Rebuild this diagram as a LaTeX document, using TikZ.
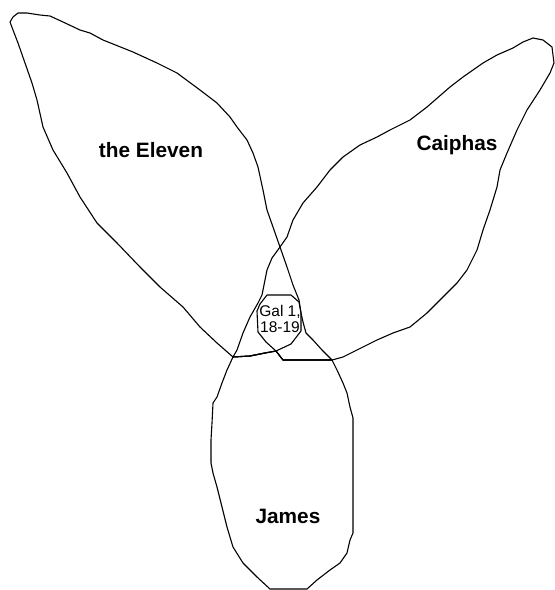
\documentclass[tikz,border=0pt]{standalone}
\usepackage{fontspec}
\setmainfont{Liberation Sans}
\usepackage{tikz}
\usetikzlibrary{positioning}

\begin{document}
\begin{tikzpicture}[
		x=1pt, y=-1pt,
		blob/.style={draw=black, line width=1.1pt, line join=round},
		lbl/.style={anchor=base, inner sep=0pt,
				font=\fontsize{20.8}{24}\selectfont\bfseries},
		ref/.style={anchor=base, inner sep=0pt,
				font=\fontsize{15.5}{18}\selectfont},
		]
		\useasboundingbox (0,0) rectangle (555,590);

		% the Eleven
		\draw[blob] (10,22) -- (13,30) -- (18,43) -- (25,63) -- (32,83) -- (37,100)
		-- (43,127) -- (53,150) -- (67,173) -- (80,197) -- (97,223) -- (117,243)
		-- (140,267) -- (160,287) -- (183,307) -- (200,327) -- (217,343) -- (233,357)
		-- (250,356) -- (265,353) -- (276,351) -- (283,360) -- (332,360)
		-- (322,350) -- (313,340) -- (306,333) -- (303,322) -- (301,313) -- (299,300)
		-- (293,285) -- (287,267) -- (280,247) -- (273,227) -- (267,210) -- (263,190)
		-- (258,167) -- (253,153) -- (247,140) -- (237,127) -- (230,117) -- (217,103)
		-- (200,90) -- (177,73) -- (157,63) -- (133,52) -- (103,40) -- (90,33)
		-- (80,30) -- (63,22) -- (50,16) -- (40,15) -- (27,13) -- (18,13) -- (13,17)
		-- cycle;

		% Caiphas
		\draw[blob] (533,38) -- (543,40) -- (552,47) -- (554,63) -- (550,73) -- (540,90)
		-- (527,110) -- (517,130) -- (507,153) -- (500,170) -- (497,187) -- (490,210)
		-- (483,230) -- (477,250) -- (467,270) -- (457,283) -- (443,297) -- (427,313)
		-- (410,327) -- (393,333) -- (377,340) -- (357,350) -- (343,357) -- (332,360)
		-- (283,360) -- (276,351) -- (265,353) -- (250,356) -- (233,357)
		-- (237,350) -- (243,333) -- (250,317) -- (258,303) -- (262,295) -- (264,285)
		-- (267,270) -- (272,258) -- (280,247) -- (287,237) -- (293,220) -- (303,203)
		-- (317,187) -- (330,170) -- (343,157) -- (360,145) -- (377,137) -- (390,130)
		-- (410,120) -- (427,107) -- (450,87) -- (463,77) -- (483,63) -- (497,55)
		-- (513,48) -- (523,42) -- cycle;

		% James
		\draw[blob] (233,357) -- (227,370) -- (222,383) -- (217,397) -- (213,403)
		-- (212,423) -- (211,440) -- (211,463) -- (213,473) -- (217,487) -- (222,507)
		-- (227,527) -- (233,547) -- (243,563) -- (257,577) -- (270,589) -- (307,589)
		-- (317,580) -- (330,570) -- (340,563) -- (347,553) -- (350,540) -- (353,533)
		-- (353,418) -- (350,407) -- (347,393) -- (343,383) -- (337,370) -- (332,360)
		-- (283,360) -- (276,351) -- (265,353) -- (250,356) -- cycle;

		% Gal 1, 18-19
		\draw[blob] (267,295) -- (291,295) -- (299,302) -- (301,313) -- (301,331)
		-- (291,344) -- (276,351) -- (266,342) -- (258,332) -- (257,311) -- (260,304)
		-- cycle;

		% Beschriftung
		\node[lbl] (eleven)  at (151,157) {the Eleven};
		\node[lbl] (caiphas) at (457,150) {Caiphas};
		\node[lbl] (james)   at (288,523) {James};
		\node[ref] (gal)     at (280,316) {Gal 1,};
		\node[ref] (verses)  at (280,332) {18-19};

	\end{tikzpicture}
\end{document}
